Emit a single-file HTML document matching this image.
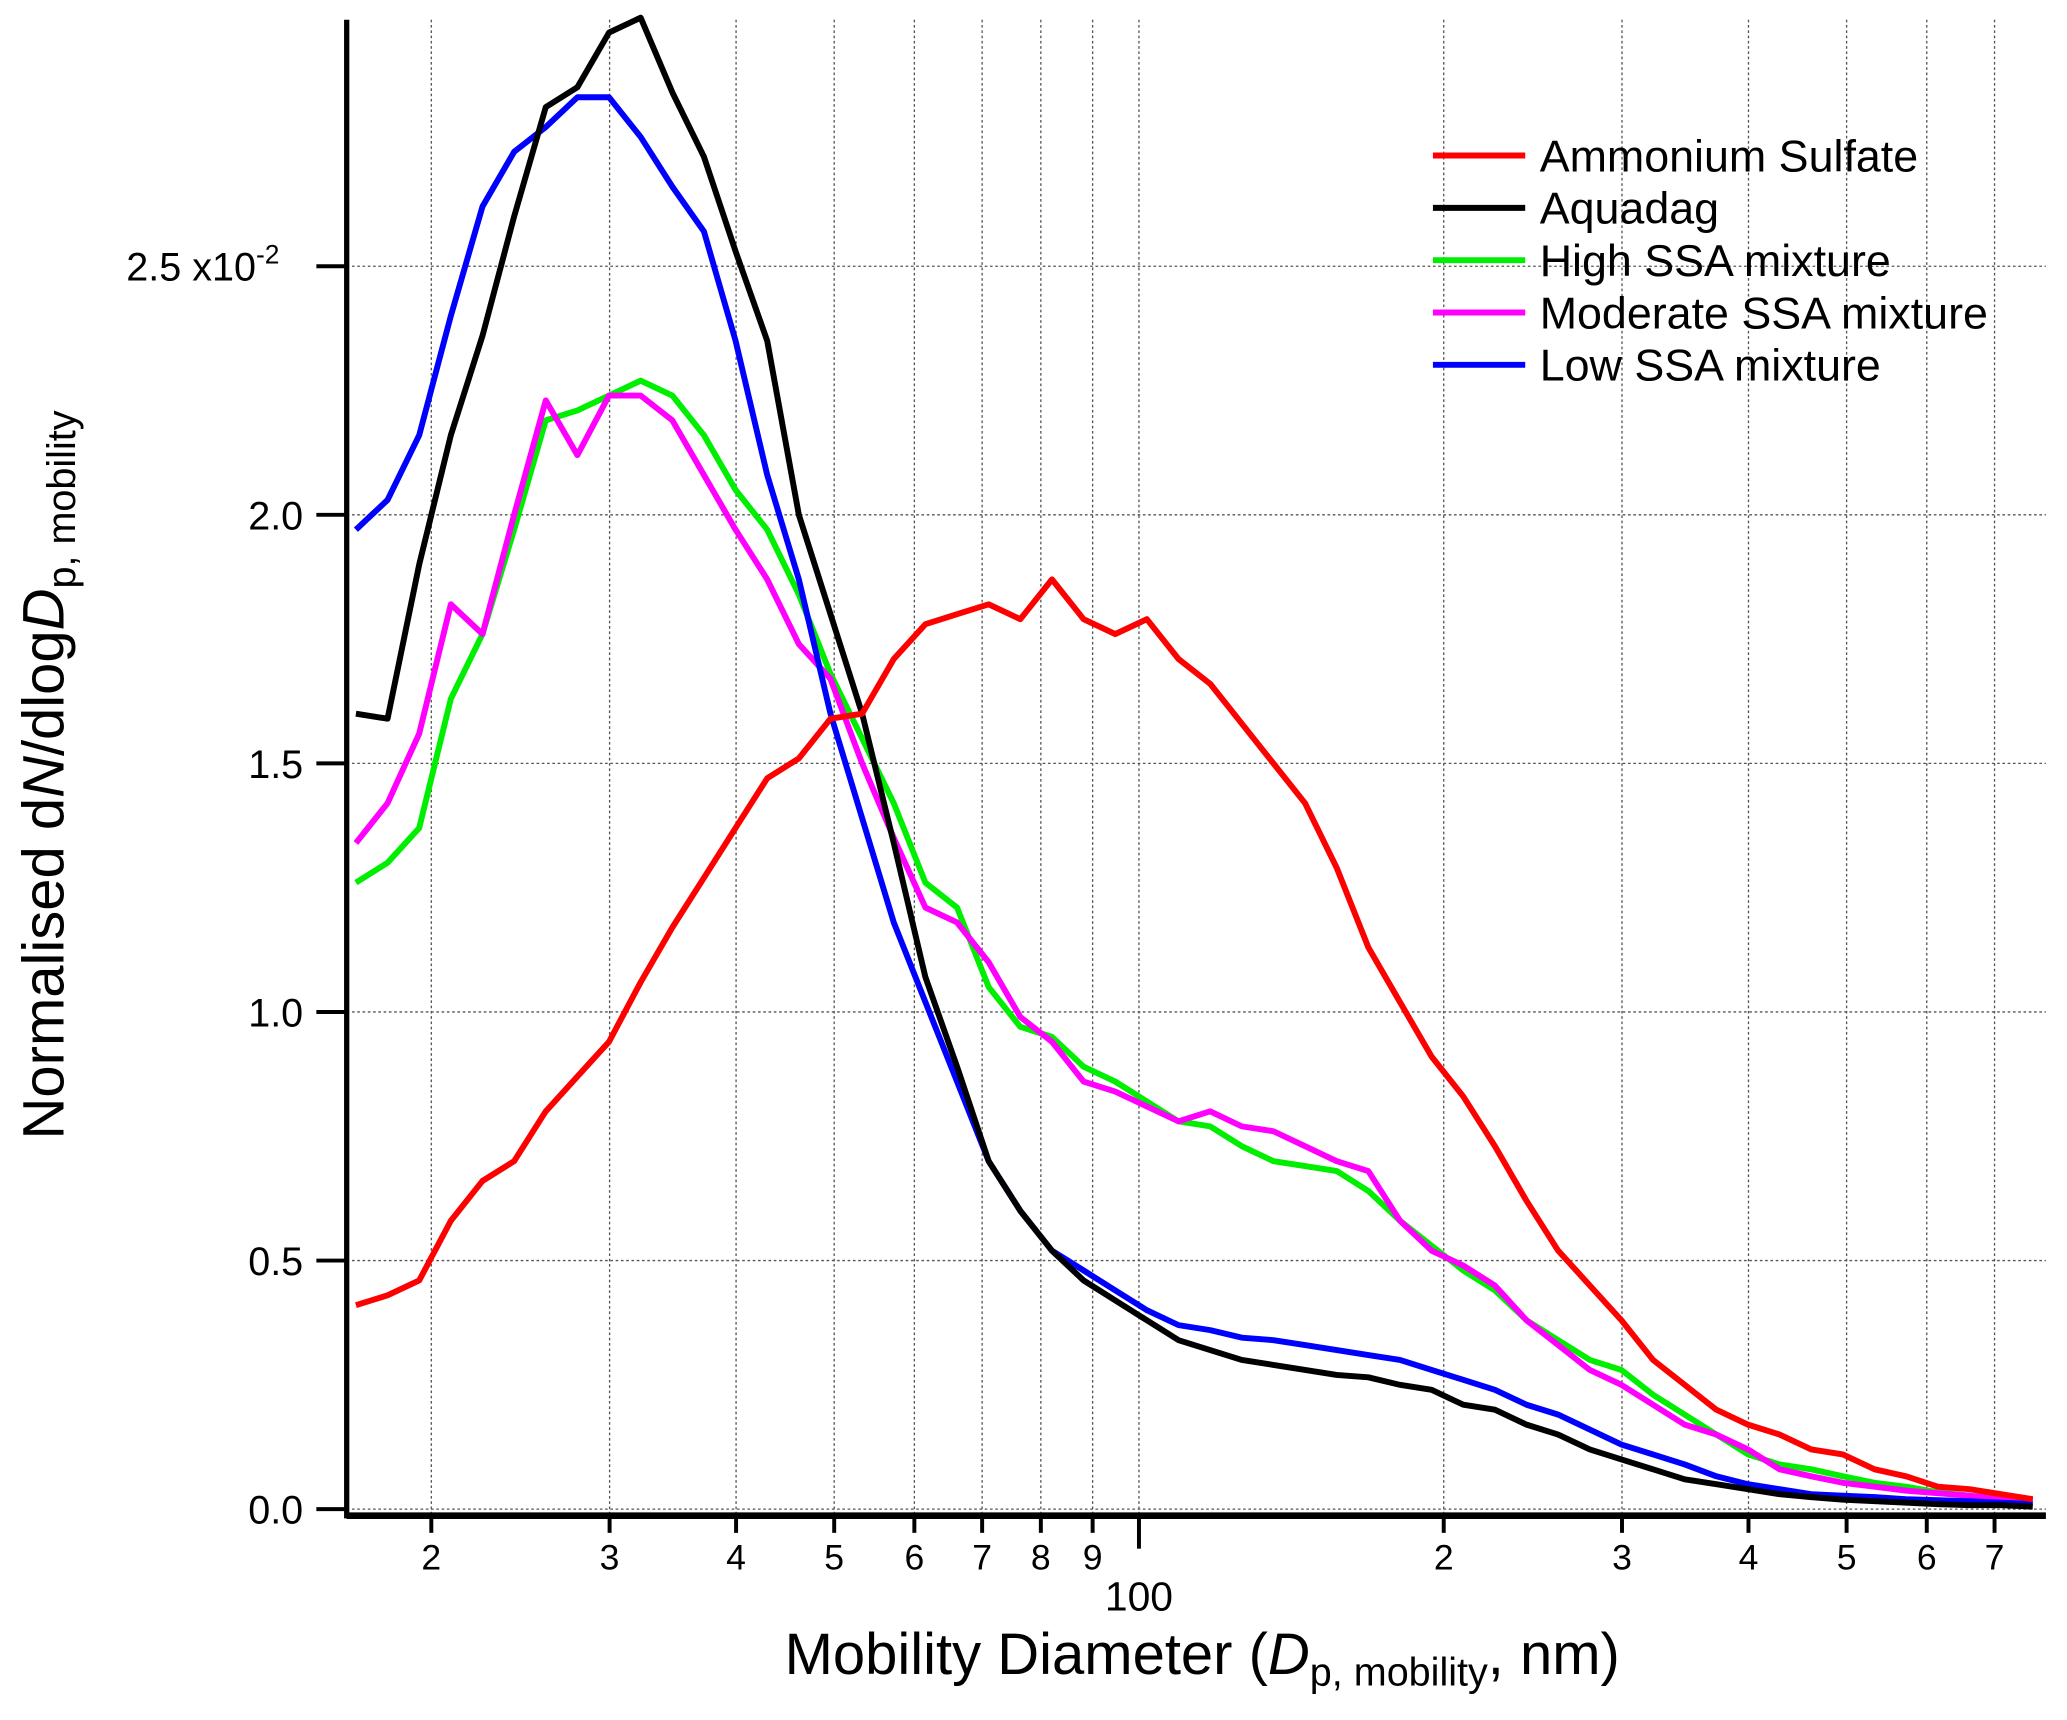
<!DOCTYPE html>
<html><head><meta charset="utf-8"><style>
html,body{margin:0;padding:0;background:#fff;}
svg{display:block;font-family:"Liberation Sans",sans-serif;}
</style></head><body>
<svg id="chart" width="2067" height="1720" viewBox="0 0 1568 1305" preserveAspectRatio="none" xmlns="http://www.w3.org/2000/svg">
<g id="grid"></g>
<g id="series"></g>
<g id="axes"></g>
<text transform="translate(48,588) rotate(-90)" text-anchor="middle" font-size="44">Normalised d<tspan font-style="italic">N</tspan>/dlog<tspan font-style="italic">D</tspan><tspan font-size="30" dy="9">p, mobility</tspan></text>
<text x="912" y="1270" text-anchor="middle" font-size="44">Mobility Diameter (<tspan font-style="italic">D</tspan><tspan font-size="30" dy="9">p, mobility</tspan><tspan dy="-9">, nm)</tspan></text>
<g id="legend"></g>
</svg>
<script>
const seriesNames = ["Ammonium Sulfate","Aquadag","High SSA mixture","Moderate SSA mixture","Low SSA mixture"];
const seriesColors = ["#ff0000","#000000","#00ee00","#ff00ff","#0000ff"];
const logStart = 1.2266, logStep = 0.03125, nPoints = 54;
const ammonium = [0.41,0.43,0.46,0.58,0.66,0.70,0.80,0.87,0.94,1.06,1.17,1.27,1.37,1.47,1.51,1.59,1.60,1.71,1.78,1.80,1.82,1.79,1.87,1.79,1.76,1.79,1.71,1.66,1.58,1.50,1.42,1.29,1.13,1.02,0.91,0.83,0.73,0.62,0.52,0.45,0.38,0.30,0.25,0.20,0.17,0.15,0.12,0.11,0.08,0.066,0.045,0.04,0.03,0.02];
const aquadag = [1.60,1.59,1.90,2.16,2.36,2.60,2.82,2.86,2.97,3.00,2.85,2.72,2.53,2.35,2.00,1.80,1.60,1.34,1.07,0.89,0.70,0.60,0.52,0.46,0.42,0.38,0.34,0.32,0.30,0.29,0.28,0.27,0.265,0.25,0.24,0.21,0.20,0.17,0.15,0.12,0.10,0.08,0.06,0.05,0.04,0.03,0.024,0.019,0.016,0.013,0.01,0.008,0.008,0.005];
const highSSA = [1.26,1.30,1.37,1.63,1.76,1.97,2.19,2.21,2.24,2.27,2.24,2.16,2.05,1.97,1.84,1.68,1.55,1.42,1.26,1.21,1.05,0.97,0.95,0.89,0.86,0.82,0.78,0.77,0.73,0.70,0.69,0.68,0.64,0.58,0.53,0.48,0.44,0.38,0.34,0.30,0.28,0.23,0.19,0.15,0.11,0.09,0.08,0.066,0.053,0.045,0.034,0.027,0.02,0.016];
const moderateSSA = [1.34,1.42,1.56,1.82,1.76,2.00,2.23,2.12,2.24,2.24,2.19,2.08,1.97,1.87,1.74,1.67,1.50,1.35,1.21,1.18,1.10,0.99,0.94,0.86,0.84,0.81,0.78,0.80,0.77,0.76,0.73,0.70,0.68,0.58,0.52,0.49,0.45,0.38,0.33,0.28,0.25,0.21,0.17,0.15,0.12,0.08,0.066,0.053,0.045,0.037,0.032,0.027,0.02,0.018];
const lowSSA = [1.97,2.03,2.16,2.40,2.62,2.73,2.78,2.84,2.84,2.76,2.66,2.57,2.35,2.08,1.87,1.60,1.39,1.18,1.02,0.86,0.70,0.60,0.52,0.48,0.44,0.40,0.37,0.36,0.345,0.34,0.33,0.32,0.31,0.30,0.28,0.26,0.24,0.21,0.19,0.16,0.13,0.11,0.09,0.066,0.05,0.04,0.03,0.027,0.024,0.02,0.018,0.016,0.013,0.01];
const yTicks = [0,0.5,1.0,1.5,2.0,2.5];
const yTickLabels = ["0.0","0.5","1.0","1.5","2.0","2.5 x10"];
const xTicks = [20,30,40,50,60,70,80,90,100,200,300,400,500,600,700];
const xTickLabels = ["2","3","4","5","6","7","8","9","","2","3","4","5","6","7"];

const NS="http://www.w3.org/2000/svg";
const L=263,R=1552,T=15,B=1150;
const X=d=>864+768*(Math.log10(d)-2);
const Y=v=>1145-377.2*v;
const diam=[];for(let i=0;i<nPoints;i++)diam.push(Math.pow(10,logStart+i*logStep));
function mk(tag,attrs,parent){const e=document.createElementNS(NS,tag);for(const k in attrs)e.setAttribute(k,attrs[k]);parent.appendChild(e);return e;}
const grid=document.getElementById('grid'),axes=document.getElementById('axes'),ser=document.getElementById('series'),leg=document.getElementById('legend');
xTicks.forEach((t,i)=>{
 const g=mk('line',{x1:X(t),x2:X(t),y1:T,y2:B,stroke:'#555','stroke-width':1,'stroke-dasharray':'2,2'},grid);
 
 
 const tk=mk('line',{x1:X(t),x2:X(t),y1:B,y2:t===100?1175:1163,stroke:'#000','stroke-width':3},axes);
 
 
 if(xTickLabels[i]){const tx=mk('text',{x:X(t),y:1191,'text-anchor':'middle','font-size':27},axes);tx.textContent=xTickLabels[i];
 
 }
});
const t100=mk('text',{x:X(100),y:1222,'text-anchor':'middle','font-size':31},axes);t100.textContent='100';


yTicks.forEach((t,i)=>{
 const g=mk('line',{x1:L,x2:R,y1:Y(t),y2:Y(t),stroke:'#555','stroke-width':1,'stroke-dasharray':'2,2'},grid);
 
 
 const tk=mk('line',{x1:240,x2:L,y1:Y(t),y2:Y(t),stroke:'#000','stroke-width':3},axes);
 
 
 const tx=mk('text',{x:t===2.5?212:230,y:Y(t)+11,'text-anchor':'end','font-size':30},axes);tx.textContent=yTickLabels[i];
 
 
 if(t===2.5){const s=mk('tspan',{'font-size':20,dy:-13},tx);s.textContent='-2';}
});
const ya=mk('line',{x1:L,x2:L,y1:T,y2:B+2,stroke:'#000','stroke-width':4},axes);


const xa=mk('line',{x1:L,x2:R,y1:B,y2:B,stroke:'#000','stroke-width':5},axes);


const data=[ammonium,aquadag,highSSA,moderateSSA,lowSSA];
const ids=['ammonium-sulfate-line','aquadag-line','high-ssa-line','moderate-ssa-line','low-ssa-line'];
[2,3,4,1,0].forEach(k=>{
 const pts=data[k].map((v,i)=>X(diam[i]).toFixed(1)+','+Y(v).toFixed(1)).join(' ');
 const p=mk('polyline',{points:pts,fill:'none',stroke:seriesColors[k],'stroke-width':4.5,'stroke-linejoin':'round'},ser);
 
 
});
seriesNames.forEach((n,i)=>{
 const y=118+39.7*i;
 const l=mk('line',{x1:1087,x2:1157,y1:y,y2:y,stroke:seriesColors[i],'stroke-width':4.5},leg);
 
 
 const t=mk('text',{x:1168,y:y+12,'font-size':34},leg);t.textContent=n;
 
 
});
</script>
</body></html>
